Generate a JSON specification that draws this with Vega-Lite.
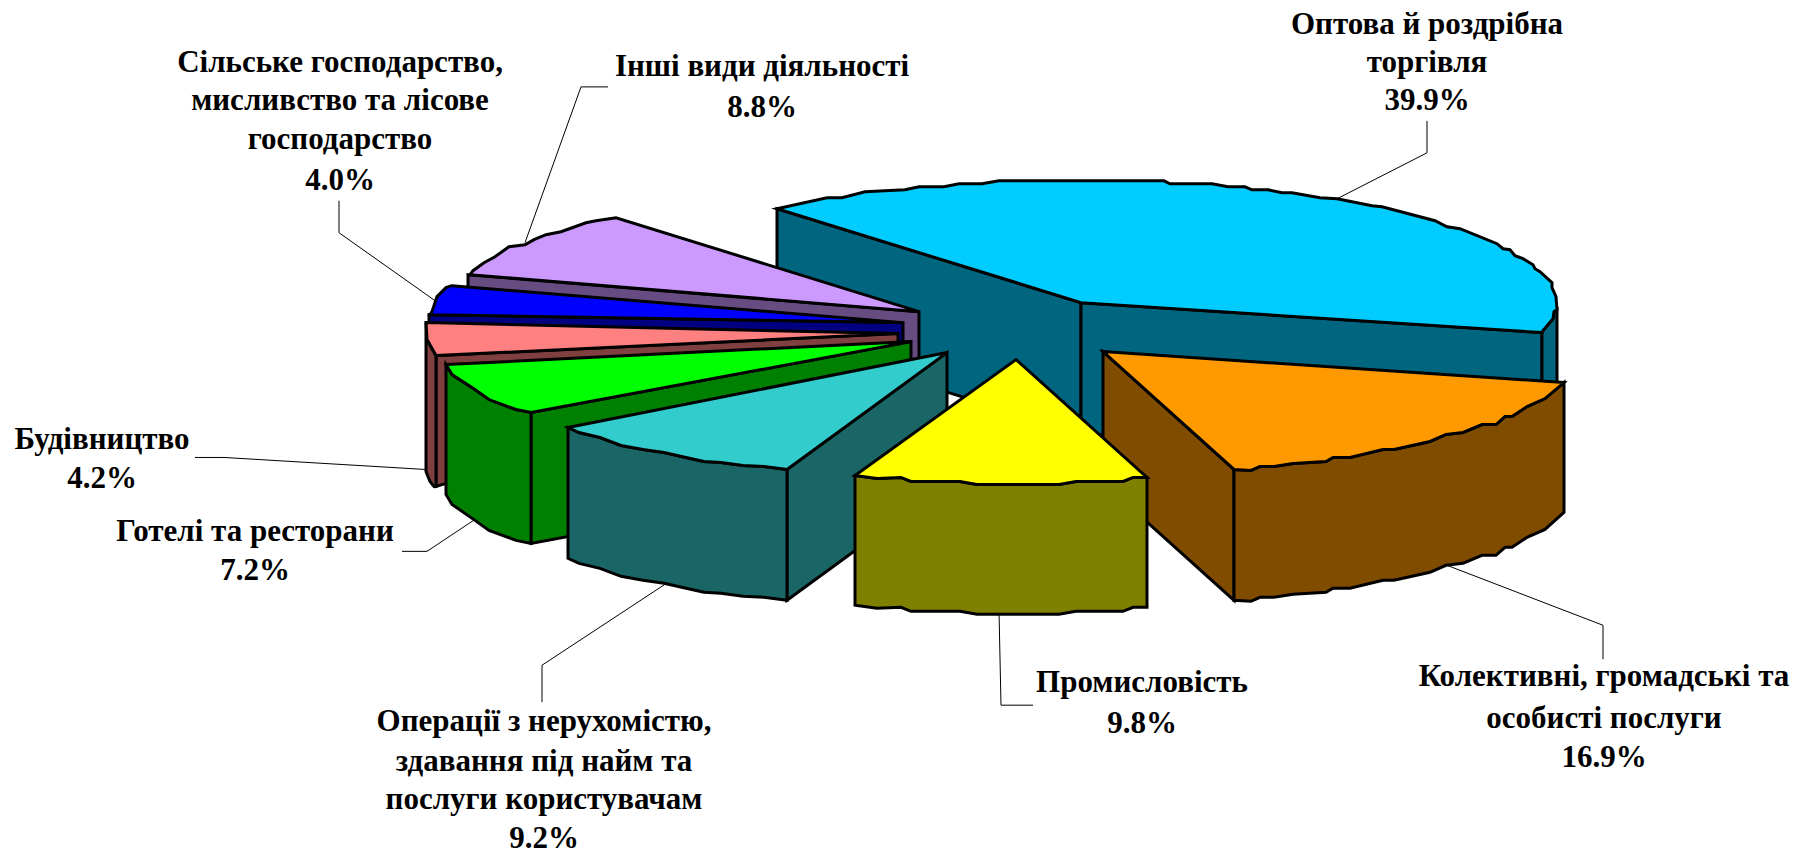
{"$schema":"https://vega.github.io/schema/vega-lite/v6.json","width":1800,"height":854,"padding":0,"autosize":{"type":"fit","contains":"padding"},"background":"white","view":{"stroke":null},
"datasets":{
"leaders":[
{"id":"a","i":0,"x":1427,"y":121},{"id":"a","i":1,"x":1427,"y":153},{"id":"a","i":2,"x":1337,"y":199},
{"id":"b","i":0,"x":1603,"y":660},{"id":"b","i":1,"x":1603,"y":626},{"id":"b","i":2,"x":1447,"y":566},
{"id":"c","i":0,"x":1033,"y":706},{"id":"c","i":1,"x":1001,"y":706},{"id":"c","i":2,"x":999,"y":612},
{"id":"d","i":0,"x":542,"y":703},{"id":"d","i":1,"x":542,"y":666},{"id":"d","i":2,"x":668,"y":583},
{"id":"e","i":0,"x":402,"y":552},{"id":"e","i":1,"x":427,"y":552},{"id":"e","i":2,"x":475,"y":520},
{"id":"f","i":0,"x":195,"y":458},{"id":"f","i":1,"x":224,"y":458},{"id":"f","i":2,"x":425,"y":470},
{"id":"g","i":0,"x":339,"y":201},{"id":"g","i":1,"x":339,"y":233},{"id":"g","i":2,"x":435,"y":301},
{"id":"h","i":0,"x":608,"y":87},{"id":"h","i":1,"x":581,"y":87},{"id":"h","i":2,"x":525,"y":243}],
"labels":[
{"t":"Оптова й роздрібна","x":1427,"y":25},{"t":"торгівля","x":1427,"y":63},{"t":"39.9%","x":1427,"y":101},
{"t":"Колективні, громадські та","x":1604,"y":678},{"t":"особисті послуги","x":1604,"y":720},{"t":"16.9%","x":1604,"y":759},
{"t":"Промисловість","x":1142,"y":684},{"t":"9.8%","x":1142,"y":725},
{"t":"Операції з нерухомістю,","x":544,"y":723},{"t":"здавання під найм та","x":544,"y":763},{"t":"послуги користувачам","x":544,"y":801},{"t":"9.2%","x":544,"y":840},
{"t":"Готелі та ресторани","x":255,"y":533},{"t":"7.2%","x":255,"y":572},
{"t":"Будівництво","x":102,"y":441},{"t":"4.2%","x":102,"y":480},
{"t":"Сільське господарство,","x":340,"y":63},{"t":"мисливство та лісове","x":340,"y":101},{"t":"господарство","x":340,"y":140},{"t":"4.0%","x":340,"y":181},
{"t":"Інші види діяльності","x":762,"y":67},{"t":"8.8%","x":762,"y":108}],
"faces":[
{"s":"01","c":"trade-side","i":0,"x":777,"y":209},{"s":"01","c":"trade-side","i":1,"x":1081,"y":303},{"s":"01","c":"trade-side","i":2,"x":1081,"y":434},{"s":"01","c":"trade-side","i":3,"x":777,"y":340},
{"s":"02","c":"trade-side","i":0,"x":1081,"y":303},{"s":"02","c":"trade-side","i":1,"x":1542,"y":333},{"s":"02","c":"trade-side","i":2,"x":1542,"y":464},{"s":"02","c":"trade-side","i":3,"x":1081,"y":434},
{"s":"03","c":"trade-side","i":0,"x":1542,"y":333},{"s":"03","c":"trade-side","i":1,"x":1543,"y":331},{"s":"03","c":"trade-side","i":2,"x":1553,"y":319},{"s":"03","c":"trade-side","i":3,"x":1554,"y":312},{"s":"03","c":"trade-side","i":4,"x":1557,"y":310},{"s":"03","c":"trade-side","i":5,"x":1557,"y":441},{"s":"03","c":"trade-side","i":6,"x":1554,"y":443},{"s":"03","c":"trade-side","i":7,"x":1553,"y":450},{"s":"03","c":"trade-side","i":8,"x":1543,"y":462},{"s":"03","c":"trade-side","i":9,"x":1542,"y":464},
{"s":"04","c":"trade-top","i":0,"x":777,"y":209},{"s":"04","c":"trade-top","i":1,"x":827,"y":198},{"s":"04","c":"trade-top","i":2,"x":842,"y":198},{"s":"04","c":"trade-top","i":3,"x":865,"y":192},{"s":"04","c":"trade-top","i":4,"x":905,"y":190},{"s":"04","c":"trade-top","i":5,"x":919,"y":187},{"s":"04","c":"trade-top","i":6,"x":944,"y":187},{"s":"04","c":"trade-top","i":7,"x":959,"y":184},{"s":"04","c":"trade-top","i":8,"x":982,"y":184},{"s":"04","c":"trade-top","i":9,"x":999,"y":181},{"s":"04","c":"trade-top","i":10,"x":1164,"y":181},{"s":"04","c":"trade-top","i":11,"x":1170,"y":184},{"s":"04","c":"trade-top","i":12,"x":1212,"y":184},{"s":"04","c":"trade-top","i":13,"x":1228,"y":187},{"s":"04","c":"trade-top","i":14,"x":1245,"y":187},{"s":"04","c":"trade-top","i":15,"x":1252,"y":190},{"s":"04","c":"trade-top","i":16,"x":1268,"y":190},{"s":"04","c":"trade-top","i":17,"x":1282,"y":193},{"s":"04","c":"trade-top","i":18,"x":1292,"y":193},{"s":"04","c":"trade-top","i":19,"x":1320,"y":198},{"s":"04","c":"trade-top","i":20,"x":1337,"y":199},{"s":"04","c":"trade-top","i":21,"x":1347,"y":201},{"s":"04","c":"trade-top","i":22,"x":1372,"y":206},{"s":"04","c":"trade-top","i":23,"x":1382,"y":207},{"s":"04","c":"trade-top","i":24,"x":1435,"y":221},{"s":"04","c":"trade-top","i":25,"x":1447,"y":227},{"s":"04","c":"trade-top","i":26,"x":1460,"y":229},{"s":"04","c":"trade-top","i":27,"x":1497,"y":244},{"s":"04","c":"trade-top","i":28,"x":1503,"y":249},{"s":"04","c":"trade-top","i":29,"x":1510,"y":250},{"s":"04","c":"trade-top","i":30,"x":1515,"y":256},{"s":"04","c":"trade-top","i":31,"x":1523,"y":259},{"s":"04","c":"trade-top","i":32,"x":1533,"y":265},{"s":"04","c":"trade-top","i":33,"x":1535,"y":269},{"s":"04","c":"trade-top","i":34,"x":1540,"y":272},{"s":"04","c":"trade-top","i":35,"x":1552,"y":283},{"s":"04","c":"trade-top","i":36,"x":1552,"y":288},{"s":"04","c":"trade-top","i":37,"x":1556,"y":297},{"s":"04","c":"trade-top","i":38,"x":1557,"y":310},{"s":"04","c":"trade-top","i":39,"x":1554,"y":312},{"s":"04","c":"trade-top","i":40,"x":1553,"y":319},{"s":"04","c":"trade-top","i":41,"x":1543,"y":331},{"s":"04","c":"trade-top","i":42,"x":1542,"y":333},{"s":"04","c":"trade-top","i":43,"x":1081,"y":303},
{"s":"05","c":"other-side","i":0,"x":468,"y":275},{"s":"05","c":"other-side","i":1,"x":919,"y":312},{"s":"05","c":"other-side","i":2,"x":919,"y":443},{"s":"05","c":"other-side","i":3,"x":468,"y":406},
{"s":"06","c":"other-top","i":0,"x":470,"y":275},{"s":"06","c":"other-top","i":1,"x":473,"y":271},{"s":"06","c":"other-top","i":2,"x":484,"y":263},{"s":"06","c":"other-top","i":3,"x":495,"y":257},{"s":"06","c":"other-top","i":4,"x":509,"y":247},{"s":"06","c":"other-top","i":5,"x":525,"y":245},{"s":"06","c":"other-top","i":6,"x":534,"y":240},{"s":"06","c":"other-top","i":7,"x":546,"y":235},{"s":"06","c":"other-top","i":8,"x":561,"y":232},{"s":"06","c":"other-top","i":9,"x":586,"y":223},{"s":"06","c":"other-top","i":10,"x":596,"y":221},{"s":"06","c":"other-top","i":11,"x":616,"y":218},{"s":"06","c":"other-top","i":12,"x":919,"y":312},
{"s":"07","c":"agri-side","i":0,"x":429,"y":315},{"s":"07","c":"agri-side","i":1,"x":903,"y":323},{"s":"07","c":"agri-side","i":2,"x":903,"y":454},{"s":"07","c":"agri-side","i":3,"x":429,"y":446},
{"s":"08","c":"agri-top","i":0,"x":452,"y":286},{"s":"08","c":"agri-top","i":1,"x":446,"y":288},{"s":"08","c":"agri-top","i":2,"x":437,"y":297},{"s":"08","c":"agri-top","i":3,"x":432,"y":312},{"s":"08","c":"agri-top","i":4,"x":430,"y":315},{"s":"08","c":"agri-top","i":5,"x":903,"y":323},
{"s":"09","c":"build-side","i":0,"x":436,"y":356},{"s":"09","c":"build-side","i":1,"x":898,"y":334},{"s":"09","c":"build-side","i":2,"x":898,"y":465},{"s":"09","c":"build-side","i":3,"x":446,"y":484},{"s":"09","c":"build-side","i":4,"x":436,"y":487},
{"s":"10","c":"build-side","i":0,"x":426,"y":323},{"s":"10","c":"build-side","i":1,"x":427,"y":340},{"s":"10","c":"build-side","i":2,"x":436,"y":356},{"s":"10","c":"build-side","i":3,"x":436,"y":487},{"s":"10","c":"build-side","i":4,"x":434,"y":487},{"s":"10","c":"build-side","i":5,"x":430,"y":482},{"s":"10","c":"build-side","i":6,"x":426,"y":472},
{"s":"11","c":"build-top","i":0,"x":426,"y":323},{"s":"11","c":"build-top","i":1,"x":898,"y":334},{"s":"11","c":"build-top","i":2,"x":436,"y":356},{"s":"11","c":"build-top","i":3,"x":427,"y":340},
{"s":"12","c":"hotel-side","i":0,"x":531,"y":413},{"s":"12","c":"hotel-side","i":1,"x":911,"y":342},{"s":"12","c":"hotel-side","i":2,"x":911,"y":473},{"s":"12","c":"hotel-side","i":3,"x":531,"y":544},
{"s":"13","c":"hotel-side","i":0,"x":446,"y":365},{"s":"13","c":"hotel-side","i":1,"x":452,"y":375},{"s":"13","c":"hotel-side","i":2,"x":475,"y":390},{"s":"13","c":"hotel-side","i":3,"x":489,"y":400},{"s":"13","c":"hotel-side","i":4,"x":516,"y":410},{"s":"13","c":"hotel-side","i":5,"x":531,"y":413},{"s":"13","c":"hotel-side","i":6,"x":531,"y":544},{"s":"13","c":"hotel-side","i":7,"x":516,"y":541},{"s":"13","c":"hotel-side","i":8,"x":489,"y":531},{"s":"13","c":"hotel-side","i":9,"x":475,"y":521},{"s":"13","c":"hotel-side","i":10,"x":452,"y":505},{"s":"13","c":"hotel-side","i":11,"x":446,"y":495},
{"s":"14","c":"hotel-top","i":0,"x":446,"y":365},{"s":"14","c":"hotel-top","i":1,"x":911,"y":342},{"s":"14","c":"hotel-top","i":2,"x":531,"y":413},{"s":"14","c":"hotel-top","i":3,"x":516,"y":410},{"s":"14","c":"hotel-top","i":4,"x":489,"y":400},{"s":"14","c":"hotel-top","i":5,"x":475,"y":390},{"s":"14","c":"hotel-top","i":6,"x":452,"y":375},
{"s":"15","c":"estate-side","i":0,"x":787,"y":470},{"s":"15","c":"estate-side","i":1,"x":947,"y":353},{"s":"15","c":"estate-side","i":2,"x":947,"y":484},{"s":"15","c":"estate-side","i":3,"x":787,"y":601},
{"s":"16","c":"estate-side","i":0,"x":568,"y":428},{"s":"16","c":"estate-side","i":1,"x":579,"y":433},{"s":"16","c":"estate-side","i":2,"x":600,"y":438},{"s":"16","c":"estate-side","i":3,"x":621,"y":446},{"s":"16","c":"estate-side","i":4,"x":643,"y":450},{"s":"16","c":"estate-side","i":5,"x":664,"y":453},{"s":"16","c":"estate-side","i":6,"x":686,"y":458},{"s":"16","c":"estate-side","i":7,"x":704,"y":462},{"s":"16","c":"estate-side","i":8,"x":721,"y":463},{"s":"16","c":"estate-side","i":9,"x":743,"y":466},{"s":"16","c":"estate-side","i":10,"x":764,"y":467},{"s":"16","c":"estate-side","i":11,"x":787,"y":470},{"s":"16","c":"estate-side","i":12,"x":787,"y":601},{"s":"16","c":"estate-side","i":13,"x":764,"y":598},{"s":"16","c":"estate-side","i":14,"x":743,"y":597},{"s":"16","c":"estate-side","i":15,"x":721,"y":594},{"s":"16","c":"estate-side","i":16,"x":704,"y":593},{"s":"16","c":"estate-side","i":17,"x":686,"y":589},{"s":"16","c":"estate-side","i":18,"x":664,"y":584},{"s":"16","c":"estate-side","i":19,"x":643,"y":581},{"s":"16","c":"estate-side","i":20,"x":621,"y":577},{"s":"16","c":"estate-side","i":21,"x":600,"y":569},{"s":"16","c":"estate-side","i":22,"x":579,"y":564},{"s":"16","c":"estate-side","i":23,"x":568,"y":559},
{"s":"17","c":"estate-top","i":0,"x":568,"y":428},{"s":"17","c":"estate-top","i":1,"x":947,"y":353},{"s":"17","c":"estate-top","i":2,"x":787,"y":470},{"s":"17","c":"estate-top","i":3,"x":764,"y":467},{"s":"17","c":"estate-top","i":4,"x":743,"y":466},{"s":"17","c":"estate-top","i":5,"x":721,"y":463},{"s":"17","c":"estate-top","i":6,"x":704,"y":462},{"s":"17","c":"estate-top","i":7,"x":686,"y":458},{"s":"17","c":"estate-top","i":8,"x":664,"y":453},{"s":"17","c":"estate-top","i":9,"x":643,"y":450},{"s":"17","c":"estate-top","i":10,"x":621,"y":446},{"s":"17","c":"estate-top","i":11,"x":600,"y":438},{"s":"17","c":"estate-top","i":12,"x":579,"y":433},
{"s":"18","c":"service-side","i":0,"x":1103,"y":352},{"s":"18","c":"service-side","i":1,"x":1234,"y":470},{"s":"18","c":"service-side","i":2,"x":1234,"y":601},{"s":"18","c":"service-side","i":3,"x":1103,"y":483},
{"s":"19","c":"service-side","i":0,"x":1234,"y":470},{"s":"19","c":"service-side","i":1,"x":1251,"y":471},{"s":"19","c":"service-side","i":2,"x":1260,"y":467},{"s":"19","c":"service-side","i":3,"x":1274,"y":467},{"s":"19","c":"service-side","i":4,"x":1293,"y":464},{"s":"19","c":"service-side","i":5,"x":1326,"y":462},{"s":"19","c":"service-side","i":6,"x":1333,"y":458},{"s":"19","c":"service-side","i":7,"x":1350,"y":458},{"s":"19","c":"service-side","i":8,"x":1383,"y":450},{"s":"19","c":"service-side","i":9,"x":1394,"y":450},{"s":"19","c":"service-side","i":10,"x":1430,"y":442},{"s":"19","c":"service-side","i":11,"x":1446,"y":435},{"s":"19","c":"service-side","i":12,"x":1463,"y":433},{"s":"19","c":"service-side","i":13,"x":1482,"y":425},{"s":"19","c":"service-side","i":14,"x":1496,"y":425},{"s":"19","c":"service-side","i":15,"x":1505,"y":417},{"s":"19","c":"service-side","i":16,"x":1512,"y":417},{"s":"19","c":"service-side","i":17,"x":1527,"y":407},{"s":"19","c":"service-side","i":18,"x":1545,"y":399},{"s":"19","c":"service-side","i":19,"x":1564,"y":383},{"s":"19","c":"service-side","i":20,"x":1564,"y":513},{"s":"19","c":"service-side","i":21,"x":1545,"y":530},{"s":"19","c":"service-side","i":22,"x":1527,"y":538},{"s":"19","c":"service-side","i":23,"x":1512,"y":548},{"s":"19","c":"service-side","i":24,"x":1505,"y":548},{"s":"19","c":"service-side","i":25,"x":1496,"y":556},{"s":"19","c":"service-side","i":26,"x":1482,"y":556},{"s":"19","c":"service-side","i":27,"x":1463,"y":564},{"s":"19","c":"service-side","i":28,"x":1446,"y":566},{"s":"19","c":"service-side","i":29,"x":1430,"y":573},{"s":"19","c":"service-side","i":30,"x":1394,"y":581},{"s":"19","c":"service-side","i":31,"x":1383,"y":581},{"s":"19","c":"service-side","i":32,"x":1350,"y":589},{"s":"19","c":"service-side","i":33,"x":1333,"y":589},{"s":"19","c":"service-side","i":34,"x":1326,"y":593},{"s":"19","c":"service-side","i":35,"x":1293,"y":595},{"s":"19","c":"service-side","i":36,"x":1274,"y":598},{"s":"19","c":"service-side","i":37,"x":1260,"y":598},{"s":"19","c":"service-side","i":38,"x":1251,"y":602},{"s":"19","c":"service-side","i":39,"x":1234,"y":601},
{"s":"20","c":"service-top","i":0,"x":1103,"y":352},{"s":"20","c":"service-top","i":1,"x":1564,"y":383},{"s":"20","c":"service-top","i":2,"x":1545,"y":399},{"s":"20","c":"service-top","i":3,"x":1527,"y":407},{"s":"20","c":"service-top","i":4,"x":1512,"y":417},{"s":"20","c":"service-top","i":5,"x":1505,"y":417},{"s":"20","c":"service-top","i":6,"x":1496,"y":425},{"s":"20","c":"service-top","i":7,"x":1482,"y":425},{"s":"20","c":"service-top","i":8,"x":1463,"y":433},{"s":"20","c":"service-top","i":9,"x":1446,"y":435},{"s":"20","c":"service-top","i":10,"x":1430,"y":442},{"s":"20","c":"service-top","i":11,"x":1394,"y":450},{"s":"20","c":"service-top","i":12,"x":1383,"y":450},{"s":"20","c":"service-top","i":13,"x":1350,"y":458},{"s":"20","c":"service-top","i":14,"x":1333,"y":458},{"s":"20","c":"service-top","i":15,"x":1326,"y":462},{"s":"20","c":"service-top","i":16,"x":1293,"y":464},{"s":"20","c":"service-top","i":17,"x":1274,"y":467},{"s":"20","c":"service-top","i":18,"x":1260,"y":467},{"s":"20","c":"service-top","i":19,"x":1251,"y":471},{"s":"20","c":"service-top","i":20,"x":1234,"y":470},
{"s":"21","c":"industry-side","i":0,"x":855,"y":476},{"s":"21","c":"industry-side","i":1,"x":877,"y":479},{"s":"21","c":"industry-side","i":2,"x":901,"y":478},{"s":"21","c":"industry-side","i":3,"x":911,"y":482},{"s":"21","c":"industry-side","i":4,"x":960,"y":482},{"s":"21","c":"industry-side","i":5,"x":977,"y":485},{"s":"21","c":"industry-side","i":6,"x":1059,"y":485},{"s":"21","c":"industry-side","i":7,"x":1076,"y":482},{"s":"21","c":"industry-side","i":8,"x":1123,"y":482},{"s":"21","c":"industry-side","i":9,"x":1133,"y":478},{"s":"21","c":"industry-side","i":10,"x":1147,"y":478},{"s":"21","c":"industry-side","i":11,"x":1147,"y":608},{"s":"21","c":"industry-side","i":12,"x":1133,"y":608},{"s":"21","c":"industry-side","i":13,"x":1123,"y":612},{"s":"21","c":"industry-side","i":14,"x":1076,"y":612},{"s":"21","c":"industry-side","i":15,"x":1059,"y":615},{"s":"21","c":"industry-side","i":16,"x":977,"y":615},{"s":"21","c":"industry-side","i":17,"x":960,"y":612},{"s":"21","c":"industry-side","i":18,"x":911,"y":612},{"s":"21","c":"industry-side","i":19,"x":901,"y":608},{"s":"21","c":"industry-side","i":20,"x":877,"y":609},{"s":"21","c":"industry-side","i":21,"x":855,"y":606},
{"s":"22","c":"industry-top","i":0,"x":1016,"y":360},{"s":"22","c":"industry-top","i":1,"x":1147,"y":478},{"s":"22","c":"industry-top","i":2,"x":1133,"y":478},{"s":"22","c":"industry-top","i":3,"x":1123,"y":482},{"s":"22","c":"industry-top","i":4,"x":1076,"y":482},{"s":"22","c":"industry-top","i":5,"x":1059,"y":485},{"s":"22","c":"industry-top","i":6,"x":977,"y":485},{"s":"22","c":"industry-top","i":7,"x":960,"y":482},{"s":"22","c":"industry-top","i":8,"x":911,"y":482},{"s":"22","c":"industry-top","i":9,"x":901,"y":478},{"s":"22","c":"industry-top","i":10,"x":877,"y":479},{"s":"22","c":"industry-top","i":11,"x":855,"y":476}
]},
"layer":[
{"data":{"name":"leaders"},"mark":{"type":"line","stroke":"black","strokeWidth":1},
"encoding":{"x":{"field":"x","type":"quantitative","scale":{"domain":[0,1800],"nice":false,"zero":false},"axis":null},"y":{"field":"y","type":"quantitative","scale":{"domain":[854,0],"nice":false,"zero":false},"axis":null},"detail":{"field":"id"},"order":{"field":"i"}}},
{"data":{"name":"faces"},"mark":{"type":"line","interpolate":"linear-closed","stroke":"black","strokeWidth":3,"strokeJoin":"miter"},
"encoding":{"x":{"field":"x","type":"quantitative"},"y":{"field":"y","type":"quantitative"},"detail":{"field":"s"},"order":{"field":"i"},
"fill":{"field":"c","type":"nominal","legend":null,"scale":{"domain":["trade-side","trade-top","other-side","other-top","agri-side","agri-top","build-side","build-top","hotel-side","hotel-top","estate-side","estate-top","service-side","service-top","industry-side","industry-top"],"range":["#006680","#00CCFF","#664C80","#CC99FF","#000080","#0000FF","#804040","#FF8080","#008000","#00FF00","#1A6666","#33CCCC","#804C00","#FF9900","#808000","#FFFF00"]}}}},
{"data":{"name":"labels"},"mark":{"type":"text","font":"Liberation Serif","fontWeight":"bold","fontSize":31,"align":"center","baseline":"middle","color":"black"},
"encoding":{"x":{"field":"x","type":"quantitative"},"y":{"field":"y","type":"quantitative"},"text":{"field":"t"}}}
]}
